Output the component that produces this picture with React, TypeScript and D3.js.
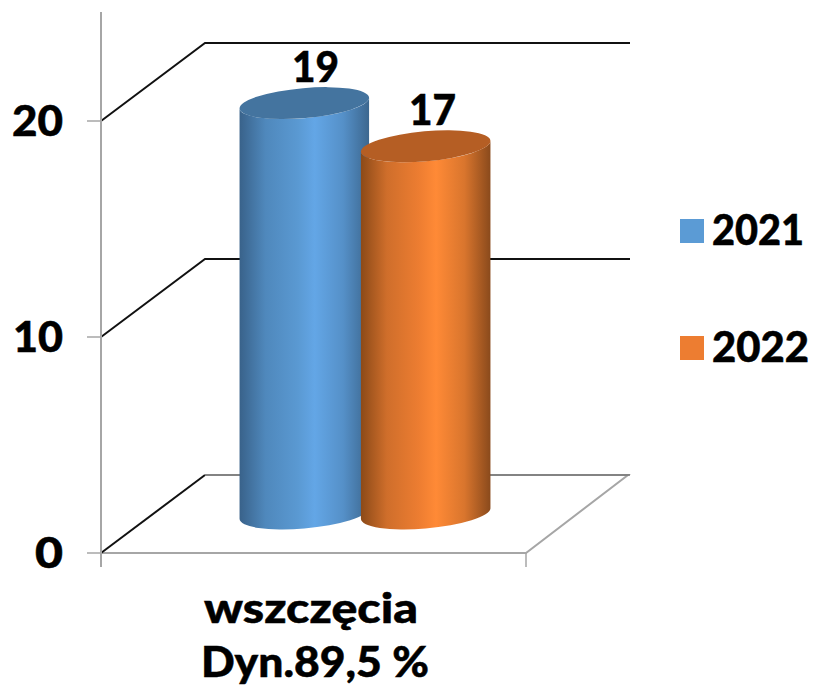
import React from "react";
import * as d3 from "d3";

const categoryLines = ["wszczęcia", "Dyn.89,5 %"];
const seriesNames = ["2021", "2022"];
const seriesValues = [19, 17];
const yTicks = [0, 10, 20];
const seriesDark = ["#44749f", "#b55e24"];
const legendColors = ["#5b9bd5", "#ed7d31"];
const gradStops = [
  ["#39628a", "#4f88bc", "#5a99d2", "#63a6e6", "#5590c8", "#3c678f"],
  ["#8c4a18", "#cf6e2b", "#ed7d31", "#ff8a36", "#d9752d", "#8a4a1c"],
];
const gradOffsets = [0, 0.2, 0.45, 0.58, 0.8, 1];

const FONT = "Lato, 'Noto Sans', sans-serif";
const FS = 42;
const W = 813, H = 685;
const axisX = 101, depthX = 104, depthY = 78, floorW = 425;
const y = d3.scaleLinear().domain([0, 20]).range([553, 121]);
const x = d3.scaleBand<string>().domain(seriesNames).range([240, 490]).paddingInner(-0.06);

const RX = 65, RY = 15, ROT = -5;

function ends(cx: number, cy: number) {
  const t = (ROT * Math.PI) / 180;
  const xe = Math.sqrt(RX * RX * Math.cos(t) ** 2 + RY * RY * Math.sin(t) ** 2);
  const ye = ((RX * RX - RY * RY) * Math.sin(t) * Math.cos(t)) / xe;
  return { xe, ye, L: [cx - xe, cy - ye], R: [cx + xe, cy + ye] };
}

// Bold label stretched to the reference's wide geometric letterforms.
function Label({ t, left, base, width }: { t: string | number; left: number; base: number; width: number }) {
  return (
    <text x={left} y={base} textLength={width} lengthAdjust="spacingAndGlyphs"
      fontFamily={FONT} fontWeight={900} fontSize={FS} fill="#000" stroke="#000" strokeWidth={0.5}>{t}</text>
  );
}

const tickBox: Record<number, [number, number]> = { 0: [35, 28], 10: [13, 50], 20: [12, 51] };
const valueBox = [[292, 47], [409, 47]];
const categoryBox = [[204, 214], [201, 228]];
const legendWidth = [92, 97];

export default function App() {
  const gridY = yTicks.slice(1);
  return (
    <svg width={W} height={H} style={{ position: "absolute", left: 0, top: 0, background: "#fff" }}>
      <defs>
        {gradStops.map((stops, i) => (
          <linearGradient key={i} id={`cyl${i}`} x1="0" x2="1" y1="0" y2="0">
            {stops.map((c, j) => <stop key={j} offset={gradOffsets[j]} stopColor={c} />)}
          </linearGradient>
        ))}
      </defs>

      <path
        d={`M${axisX},${y(0)}H${axisX + floorW}L${axisX + floorW + depthX - 2},${y(0) - depthY}H${axisX + depthX}`}
        fill="none" stroke="#a6a6a6" strokeWidth={2}
      />
      <line x1={axisX} x2={axisX + depthX} y1={y(0)} y2={y(0) - depthY} stroke="#111" strokeWidth={2} />
      <line x1={axisX + depthX} x2={axisX + floorW + depthX} y1={y(0) - depthY} y2={y(0) - depthY} stroke="#777" strokeWidth={1.5} />

      {gridY.map((v) => (
        <path key={v}
          d={`M${axisX},${y(v)}L${axisX + depthX},${y(v) - depthY}H${axisX + floorW + depthX}`}
          fill="none" stroke="#111" strokeWidth={2} />
      ))}

      <line x1={axisX} x2={axisX} y1={12} y2={567} stroke="#a6a6a6" strokeWidth={2} />
      {yTicks.map((v) => (
        <line key={v} x1={87} x2={axisX} y1={y(v)} y2={y(v)} stroke="#a6a6a6" strokeWidth={1.5} />
      ))}
      <line x1={axisX + floorW} x2={axisX + floorW} y1={y(0)} y2={567} stroke="#a6a6a6" strokeWidth={1.5} />

      {yTicks.map((v) => (
        <Label key={v} t={v} left={tickBox[v][0]} base={y(v) + 15} width={tickBox[v][1]} />
      ))}

      {seriesNames.map((name, i) => {
        const cx = (x(name) as number) + x.bandwidth() / 2;
        const h = y(0) - y(seriesValues[i]);
        const bottomY = 513.5;
        const topY = bottomY - h;
        const e = ends(cx, topY);
        const b = ends(cx, bottomY);
        const body = `M${e.L[0]},${e.L[1]}L${b.L[0]},${b.L[1]}A${RX},${RY} ${ROT} 0 0 ${b.R[0]},${b.R[1]}L${e.R[0]},${e.R[1]}A${RX},${RY} ${ROT} 0 1 ${e.L[0]},${e.L[1]}Z`;
        return (
          <g key={name}>
            <path d={body} fill={`url(#cyl${i})`} />
            <ellipse cx={cx} cy={topY} rx={RX} ry={RY} transform={`rotate(${ROT} ${cx} ${topY})`} fill={seriesDark[i]} />
            <Label t={seriesValues[i]} left={valueBox[i][0]} base={topY - 21} width={valueBox[i][1]} />
          </g>
        );
      })}

      {categoryLines.map((t, i) => (
        <Label key={t} t={t} left={categoryBox[i][0]} base={623 + i * 54} width={categoryBox[i][1]} />
      ))}

      {seriesNames.map((name, i) => (
        <g key={name}>
          <rect x={680} y={219 + i * 117} width={24} height={24} fill={legendColors[i]} />
          <Label t={name} left={712} base={245 + i * 117} width={legendWidth[i]} />
        </g>
      ))}
    </svg>
  );
}
